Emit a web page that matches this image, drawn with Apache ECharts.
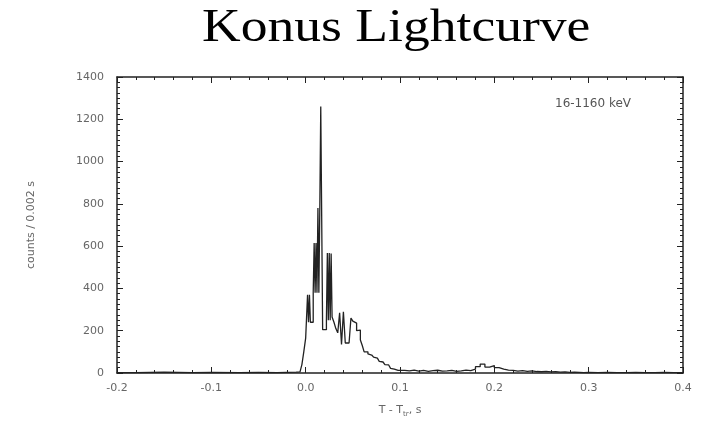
<!DOCTYPE html>
<html>
<head>
<meta charset="utf-8">
<script src="https://cdn.jsdelivr.net/npm/echarts@6/dist/echarts.min.js"></script>
<style>
  html, body { margin: 0; padding: 0; background: #fff; }
  #chart { width: 702px; height: 435px; }
</style>
</head>
<body>
<div id="chart"></div>
<script>
// step starts (s) and counts per 0.002 s
const preTimes = [-0.2, -0.18, -0.15, -0.12, -0.1, -0.07, -0.05, -0.03, -0.02, -0.01];
const preCounts = [2, 4, 2, 3, 2, 3, 2, 3, 4, 5];

// the grey blocks of the original are fast flicker between two levels
const burstTimes = [
  -0.006, -0.004, -0.002, 0.000, 0.002, 0.003, 0.004, 0.005, 0.006, 0.008,
  0.009, 0.010, 0.011, 0.012, 0.013, 0.014, 0.015, 0.016, 0.018, 0.020,
  0.022, 0.023, 0.024, 0.025, 0.026, 0.027, 0.028, 0.030, 0.032, 0.034,
  0.036, 0.038, 0.040, 0.042, 0.044, 0.046, 0.048, 0.050, 0.052, 0.054,
  0.056, 0.058, 0.060, 0.062, 0.064, 0.066, 0.068, 0.070, 0.072, 0.074,
  0.076, 0.078, 0.080, 0.082, 0.084, 0.086, 0.088, 0.090, 0.092, 0.094,
  0.096, 0.098
];
const burstCounts = [
  10, 40, 100, 165, 370, 240, 370, 240, 240, 380,
  615, 380, 615, 380, 780, 380, 780, 1260, 205, 205,
  250, 568, 250, 568, 250, 565, 265, 240, 210, 190,
  285, 135, 290, 142, 142, 142, 260, 245, 236, 200,
  203, 156, 130, 100, 100, 90, 85, 80, 75, 70,
  65, 55, 52, 48, 40, 38, 30, 22, 18, 14,
  12, 10
];

const tailTimes = [
  0.100, 0.105, 0.110, 0.115, 0.120, 0.125, 0.130, 0.135, 0.140, 0.145,
  0.150, 0.155, 0.160, 0.165, 0.170, 0.175, 0.180, 0.185, 0.190, 0.195,
  0.200, 0.205, 0.210, 0.215, 0.220, 0.225, 0.230, 0.235, 0.240, 0.245,
  0.250, 0.255, 0.260, 0.265, 0.270, 0.275, 0.280, 0.285, 0.290, 0.295,
  0.300, 0.310, 0.320, 0.330, 0.340, 0.350, 0.360, 0.370, 0.380, 0.390,
  0.400
];
const tailCounts = [
  12, 10, 14, 9, 12, 8, 11, 13, 9, 10,
  12, 8, 10, 14, 11, 18, 30, 42, 28, 35,
  25, 18, 14, 12, 9, 11, 8, 10, 7, 6,
  8, 5, 6, 4, 5, 3, 4, 3, 2, 3,
  2, 3, 2, 2, 3, 2, 2, 3, 2, 2,
  2
];

const xTicks = ["-0.2", "-0.1", "0.0", "0.1", "0.2", "0.3", "0.4"];
const energyLabel = "16-1160 keV";

let times = [...preTimes, ...burstTimes, ...tailTimes];
let counts = [...preCounts, ...burstCounts, ...tailCounts];
let lightcurve = times.map((t, i) => [t, counts[i]]);

let myChart = echarts.init(document.getElementById("chart"));

let labelFont = "DejaVu Sans";
let axisLabelStyle = {
  color: "#666",
  fontFamily: labelFont,
  fontSize: 11,
};

// mirrored frame axes (top / right) carry ticks but no labels
let frameTick = { inside: true, length: 6, lineStyle: { color: "#222" } };
let frameLine = { show: true, onZero: false, lineStyle: { color: "#222", width: 1.5 } };

let option = {
  animation: false,
  backgroundColor: "#fff",
  graphic: [
    {
      type: "text",
      x: 202,
      y: 5,
      scaleX: 1.14,
      style: {
        text: "Konus Lightcurve",
        fill: "#000",
        font: "47px Liberation Serif",
        textVerticalAlign: "top",
      },
    },
    {
      type: "text",
      x: 555,
      y: 98,
      style: {
        text: energyLabel,
        fill: "#555",
        font: "12px DejaVu Sans",
        textVerticalAlign: "top",
      },
    },
  ],
  grid: { left: 117, right: 19, top: 77, bottom: 62 },
  xAxis: [
    {
      type: "value",
      min: -0.2,
      max: 0.4,
      interval: 0.1,
      name: "T - T{sub|tr}, s",
      nameLocation: "middle",
      nameGap: 30,
      nameTextStyle: {
        color: "#666",
        fontFamily: labelFont,
        fontSize: 11,
        rich: { sub: { fontSize: 7, fontFamily: labelFont, color: "#666", padding: [8, 0, 0, 0] } },
      },
      axisLine: frameLine,
      axisTick: frameTick,
      minorTick: { show: true, splitNumber: 5, length: 3, lineStyle: { color: "#222" } },
      splitLine: { show: false },
      axisLabel: {
        ...axisLabelStyle,
        margin: 10,
        formatter: (v) => xTicks[Math.round((v + 0.2) * 10)],
      },
    },
    {
      type: "value",
      position: "top",
      min: -0.2,
      max: 0.4,
      interval: 0.1,
      axisLine: frameLine,
      axisTick: frameTick,
      minorTick: { show: true, splitNumber: 5, length: 3, lineStyle: { color: "#222" } },
      splitLine: { show: false },
      axisLabel: { show: false },
    },
  ],
  yAxis: [
    {
      type: "value",
      min: 0,
      max: 1400,
      interval: 200,
      name: "counts / 0.002 s",
      nameLocation: "middle",
      nameGap: 80,
      nameTextStyle: { color: "#666", fontFamily: labelFont, fontSize: 11 },
      axisLine: frameLine,
      axisTick: frameTick,
      minorTick: { show: true, splitNumber: 8, length: 3, lineStyle: { color: "#222" } },
      splitLine: { show: false },
      axisLabel: { ...axisLabelStyle, margin: 13, formatter: (v) => String(v) },
    },
    {
      type: "value",
      position: "right",
      min: 0,
      max: 1400,
      interval: 200,
      axisLine: frameLine,
      axisTick: frameTick,
      minorTick: { show: true, splitNumber: 8, length: 3, lineStyle: { color: "#222" } },
      splitLine: { show: false },
      axisLabel: { show: false },
    },
  ],
  series: [
    {
      name: "counts",
      type: "line",
      step: "end",
      data: lightcurve,
      showSymbol: false,
      lineStyle: { color: "#222", width: 1.3 },
    },
  ],
};

option && myChart.setOption(option);
</script>
</body>
</html>
